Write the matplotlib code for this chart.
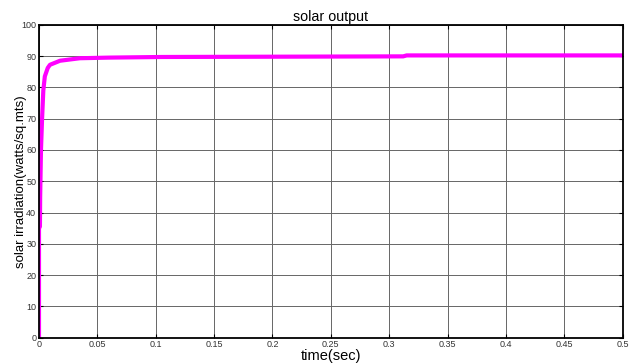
import numpy as np
import matplotlib.pyplot as plt

plt.rcParams['font.family'] = ['Liberation Sans', 'DejaVu Sans']

# values
time = [0, 0.0, 0.0008, 0.0010, 0.0017, 0.0026, 0.0037, 0.005, 0.0075, 0.0094,
        0.018, 0.035, 0.06, 0.105, 0.21, 0.312, 0.315, 0.5]
irradiation = [0, 35, 35.5, 45, 60, 69.6, 79, 83.5, 86.2, 87.2,
               88.5, 89.3, 89.5, 89.7, 89.8, 89.9, 90.2, 90.2]
xticks = [0, 0.05, 0.1, 0.15, 0.2, 0.25, 0.3, 0.35, 0.4, 0.45, 0.5]
xticklabels = ['0', '0.05', '0.1', '0.15', '0.2', '0.25', '0.3', '0.35', '0.4', '0.45', '0.5']
yticks = [0, 10, 20, 30, 40, 50, 60, 70, 80, 90, 100]

fig = plt.figure(figsize=(6.33, 3.64), dpi=100)
ax = fig.add_axes([0.0616, 0.0723, 0.922, 0.8597])

ax.plot(time, irradiation, color='#ff00ff', linewidth=3)

ax.set_xlim(0, 0.5)
ax.set_ylim(0, 100)
ax.set_xticks(xticks)
ax.set_xticklabels(xticklabels)
ax.set_yticks(yticks)
ax.tick_params(direction='in', top=True, right=True, labelsize=6.5,
               labelcolor='#333333', length=3, width=0.8, pad=2)
ax.grid(True, color='#666666', linewidth=0.7)
for s in ax.spines.values():
    s.set_linewidth(1.3)

ax.set_title("solar output", fontsize=10.3, pad=3)
ax.set_xlabel("time(sec)", fontsize=10.5, labelpad=0)
ax.set_ylabel("solar irradiation(watts/sq.mts)", fontsize=9.5)
ax.yaxis.set_label_coords(-0.021, 0.5)

fig.savefig("out.png", dpi=100)
